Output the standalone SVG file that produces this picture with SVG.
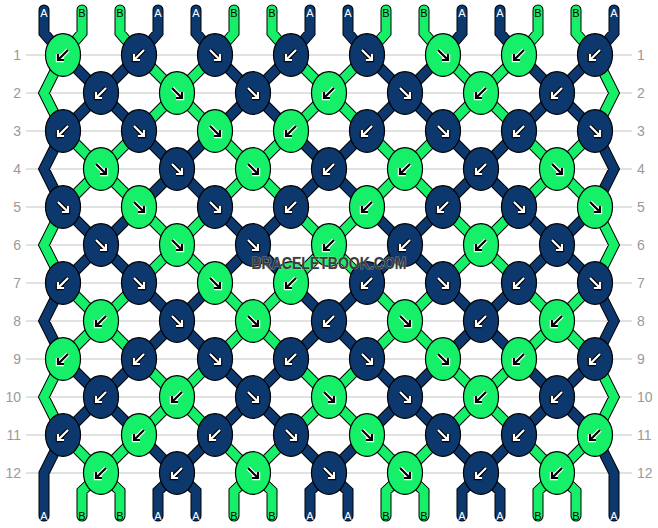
<svg xmlns="http://www.w3.org/2000/svg" xmlns:xlink="http://www.w3.org/1999/xlink" width="658" height="528" viewBox="0 0 658 528">
<style>
.bg{fill:#fff}
.grid line{stroke:#c4c4c4;stroke-width:1}
.rn{font-family:"Liberation Sans",Arial,sans-serif;font-size:14px;fill:#9a9a9a}
.ol{stroke:#000;stroke-width:11;stroke-linecap:round;stroke-linejoin:miter}
.cn{stroke:#0c386e;stroke-width:9;stroke-linecap:round;stroke-linejoin:miter}
.cg{stroke:#16f068;stroke-width:9;stroke-linecap:round;stroke-linejoin:miter}
.sl{font-family:"Liberation Sans",Arial,sans-serif;font-size:11px;text-anchor:middle}
.sa{fill:#fff}
.sb{fill:#000}
.N{fill:#0c386e;stroke:#000;color:#fff}
.G{fill:#16f068;stroke:#fff;color:#000}
.wm{font-family:"Liberation Sans",Arial,sans-serif;font-weight:bold;font-size:16px;fill:#3c3c3c;stroke:#d0d0d0;stroke-width:0.6;paint-order:stroke;text-anchor:middle}
</style>
<defs>
<ellipse id="e" rx="17.5" ry="21.3" stroke="#000" stroke-width="1.2"/>
<g id="L">
<path d="M5,-5L-4,4M-5,-1L-5,5L1,5" fill="none" stroke-width="4.4" stroke-linecap="butt" stroke-linejoin="miter"/>
<path d="M5,-5L-4,4M-5,-1L-5,5L1,5" fill="none" stroke="currentColor" stroke-width="2.2" stroke-linecap="butt" stroke-linejoin="miter"/>
</g>
<g id="R">
<path d="M-5,-5L4,4M5,-1L5,5L-1,5" fill="none" stroke-width="4.4" stroke-linecap="butt" stroke-linejoin="miter"/>
<path d="M-5,-5L4,4M5,-1L5,5L-1,5" fill="none" stroke="currentColor" stroke-width="2.2" stroke-linecap="butt" stroke-linejoin="miter"/>
</g>
<path id="nv" fill="none" d="M44,10V33L63,55M158,10V33L139,55M196,10V33L215,55M310,10V33L291,55M348,10V33L367,55M462,10V33L443,55M500,10V33L519,55M614,10V33L595,55
M63,55L139,131M139,55L63,131M215,55L291,131M291,55L215,131M367,55L443,131M443,55L367,131M519,55L595,131M595,55L519,131
M139,131L215,207M215,131L139,207M291,131L367,207M367,131L291,207M443,131L519,207M519,131L443,207
M63,207L139,283M139,207L63,283M215,207L291,283M291,207L215,283M367,207L443,283M443,207L367,283M519,207L595,283M595,207L519,283
M139,283L215,359M215,283L139,359M291,283L367,359M367,283L291,359M443,283L519,359M519,283L443,359
M63,359L139,435M139,359L63,435M215,359L291,435M291,359L215,435M367,359L443,435M443,359L367,435M519,359L595,435M595,359L519,435
M139,435L177,473L215,435M158,516V491L177,473L196,491V516
M291,435L329,473L367,435M310,516V491L329,473L348,491V516
M443,435L481,473L519,435M462,516V491L481,473L500,491V516
M63,131L44,169L63,207M595,131L614,169L595,207
M63,283L44,321L63,359M595,283L614,321L595,359
M63,435L44,473V516M595,435L614,473V516"/>
<path id="gr" fill="none" d="M82,10V33L63,55M120,10V33L139,55M234,10V33L215,55M272,10V33L291,55M386,10V33L367,55M424,10V33L443,55M538,10V33L519,55M576,10V33L595,55
M139,55L215,131M215,55L139,131M291,55L367,131M367,55L291,131M443,55L519,131M519,55L443,131
M63,131L139,207M139,131L63,207M215,131L291,207M291,131L215,207M367,131L443,207M443,131L367,207M519,131L595,207M595,131L519,207
M139,207L215,283M215,207L139,283M291,207L367,283M367,207L291,283M443,207L519,283M519,207L443,283
M63,283L139,359M139,283L63,359M215,283L291,359M291,283L215,359M367,283L443,359M443,283L367,359M519,283L595,359M595,283L519,359
M139,359L215,435M215,359L139,435M291,359L367,435M367,359L291,435M443,359L519,435M519,359L443,435
M63,435L101,473L139,435M82,516V491L101,473L120,491V516
M215,435L253,473L291,435M234,516V491L253,473L272,491V516
M367,435L405,473L443,435M386,516V491L405,473L424,491V516
M519,435L557,473L595,435M538,516V491L557,473L576,491V516
M63,55L44,93L63,131M595,55L614,93L595,131
M63,207L44,245L63,283M595,207L614,245L595,283
M63,359L44,397L63,435M595,359L614,397L595,435"/>
</defs>
<rect class="bg" x="0" y="0" width="658" height="528"/>
<g id="grid" class="grid">
<line x1="26" y1="55" x2="632" y2="55"/><line x1="26" y1="93" x2="632" y2="93"/><line x1="26" y1="131" x2="632" y2="131"/><line x1="26" y1="169" x2="632" y2="169"/><line x1="26" y1="207" x2="632" y2="207"/><line x1="26" y1="245" x2="632" y2="245"/><line x1="26" y1="283" x2="632" y2="283"/><line x1="26" y1="321" x2="632" y2="321"/><line x1="26" y1="359" x2="632" y2="359"/><line x1="26" y1="397" x2="632" y2="397"/><line x1="26" y1="435" x2="632" y2="435"/><line x1="26" y1="473" x2="632" y2="473"/>
</g>
<g id="row-numbers" class="rn">
<g text-anchor="end">
<text x="21" y="60">1</text><text x="21" y="98">2</text><text x="21" y="136">3</text><text x="21" y="174">4</text><text x="21" y="212">5</text><text x="21" y="250">6</text><text x="21" y="288">7</text><text x="21" y="326">8</text><text x="21" y="364">9</text><text x="21" y="402">10</text><text x="21" y="440">11</text><text x="21" y="478">12</text>
</g>
<g text-anchor="start">
<text x="637" y="60">1</text><text x="637" y="98">2</text><text x="637" y="136">3</text><text x="637" y="174">4</text><text x="637" y="212">5</text><text x="637" y="250">6</text><text x="637" y="288">7</text><text x="637" y="326">8</text><text x="637" y="364">9</text><text x="637" y="402">10</text><text x="637" y="440">11</text><text x="637" y="478">12</text>
</g>
</g>
<g id="strands">
<use href="#nv" class="ol"/>
<use href="#gr" class="ol"/>
<use href="#nv" class="cn"/>
<use href="#gr" class="cg"/>
</g>
<g id="string-labels" class="sl">
<text class="sa" x="44" y="17">A</text><text class="sb" x="82" y="17">B</text><text class="sb" x="120" y="17">B</text><text class="sa" x="158" y="17">A</text><text class="sa" x="196" y="17">A</text><text class="sb" x="234" y="17">B</text><text class="sb" x="272" y="17">B</text><text class="sa" x="310" y="17">A</text><text class="sa" x="348" y="17">A</text><text class="sb" x="386" y="17">B</text><text class="sb" x="424" y="17">B</text><text class="sa" x="462" y="17">A</text><text class="sa" x="500" y="17">A</text><text class="sb" x="538" y="17">B</text><text class="sb" x="576" y="17">B</text><text class="sa" x="614" y="17">A</text>
<text class="sa" x="44" y="520">A</text><text class="sb" x="82" y="520">B</text><text class="sb" x="120" y="520">B</text><text class="sa" x="158" y="520">A</text><text class="sa" x="196" y="520">A</text><text class="sb" x="234" y="520">B</text><text class="sb" x="272" y="520">B</text><text class="sa" x="310" y="520">A</text><text class="sa" x="348" y="520">A</text><text class="sb" x="386" y="520">B</text><text class="sb" x="424" y="520">B</text><text class="sa" x="462" y="520">A</text><text class="sa" x="500" y="520">A</text><text class="sb" x="538" y="520">B</text><text class="sb" x="576" y="520">B</text><text class="sa" x="614" y="520">A</text>
</g>
<g id="knots">
<g id="k1-1" class="G" transform="translate(63,55)"><use href="#e"/><use href="#L"/></g>
<g id="k1-2" class="N" transform="translate(139,55)"><use href="#e"/><use href="#L"/></g>
<g id="k1-3" class="N" transform="translate(215,55)"><use href="#e"/><use href="#R"/></g>
<g id="k1-4" class="N" transform="translate(291,55)"><use href="#e"/><use href="#L"/></g>
<g id="k1-5" class="N" transform="translate(367,55)"><use href="#e"/><use href="#R"/></g>
<g id="k1-6" class="G" transform="translate(443,55)"><use href="#e"/><use href="#R"/></g>
<g id="k1-7" class="G" transform="translate(519,55)"><use href="#e"/><use href="#L"/></g>
<g id="k1-8" class="N" transform="translate(595,55)"><use href="#e"/><use href="#L"/></g>
<g id="k2-1" class="N" transform="translate(101,93)"><use href="#e"/><use href="#L"/></g>
<g id="k2-2" class="G" transform="translate(177,93)"><use href="#e"/><use href="#R"/></g>
<g id="k2-3" class="N" transform="translate(253,93)"><use href="#e"/><use href="#R"/></g>
<g id="k2-4" class="G" transform="translate(329,93)"><use href="#e"/><use href="#L"/></g>
<g id="k2-5" class="N" transform="translate(405,93)"><use href="#e"/><use href="#R"/></g>
<g id="k2-6" class="G" transform="translate(481,93)"><use href="#e"/><use href="#L"/></g>
<g id="k2-7" class="N" transform="translate(557,93)"><use href="#e"/><use href="#L"/></g>
<g id="k3-1" class="N" transform="translate(63,131)"><use href="#e"/><use href="#L"/></g>
<g id="k3-2" class="N" transform="translate(139,131)"><use href="#e"/><use href="#R"/></g>
<g id="k3-3" class="G" transform="translate(215,131)"><use href="#e"/><use href="#R"/></g>
<g id="k3-4" class="G" transform="translate(291,131)"><use href="#e"/><use href="#L"/></g>
<g id="k3-5" class="N" transform="translate(367,131)"><use href="#e"/><use href="#L"/></g>
<g id="k3-6" class="N" transform="translate(443,131)"><use href="#e"/><use href="#R"/></g>
<g id="k3-7" class="N" transform="translate(519,131)"><use href="#e"/><use href="#L"/></g>
<g id="k3-8" class="N" transform="translate(595,131)"><use href="#e"/><use href="#R"/></g>
<g id="k4-1" class="G" transform="translate(101,169)"><use href="#e"/><use href="#R"/></g>
<g id="k4-2" class="N" transform="translate(177,169)"><use href="#e"/><use href="#R"/></g>
<g id="k4-3" class="G" transform="translate(253,169)"><use href="#e"/><use href="#R"/></g>
<g id="k4-4" class="N" transform="translate(329,169)"><use href="#e"/><use href="#L"/></g>
<g id="k4-5" class="G" transform="translate(405,169)"><use href="#e"/><use href="#L"/></g>
<g id="k4-6" class="N" transform="translate(481,169)"><use href="#e"/><use href="#L"/></g>
<g id="k4-7" class="G" transform="translate(557,169)"><use href="#e"/><use href="#R"/></g>
<g id="k5-1" class="N" transform="translate(63,207)"><use href="#e"/><use href="#R"/></g>
<g id="k5-2" class="G" transform="translate(139,207)"><use href="#e"/><use href="#R"/></g>
<g id="k5-3" class="N" transform="translate(215,207)"><use href="#e"/><use href="#R"/></g>
<g id="k5-4" class="N" transform="translate(291,207)"><use href="#e"/><use href="#L"/></g>
<g id="k5-5" class="G" transform="translate(367,207)"><use href="#e"/><use href="#L"/></g>
<g id="k5-6" class="N" transform="translate(443,207)"><use href="#e"/><use href="#L"/></g>
<g id="k5-7" class="N" transform="translate(519,207)"><use href="#e"/><use href="#R"/></g>
<g id="k5-8" class="G" transform="translate(595,207)"><use href="#e"/><use href="#R"/></g>
<g id="k6-1" class="N" transform="translate(101,245)"><use href="#e"/><use href="#R"/></g>
<g id="k6-2" class="G" transform="translate(177,245)"><use href="#e"/><use href="#R"/></g>
<g id="k6-3" class="N" transform="translate(253,245)"><use href="#e"/><use href="#R"/></g>
<g id="k6-4" class="G" transform="translate(329,245)"><use href="#e"/><use href="#L"/></g>
<g id="k6-5" class="N" transform="translate(405,245)"><use href="#e"/><use href="#L"/></g>
<g id="k6-6" class="G" transform="translate(481,245)"><use href="#e"/><use href="#L"/></g>
<g id="k6-7" class="N" transform="translate(557,245)"><use href="#e"/><use href="#R"/></g>
<g id="k7-1" class="N" transform="translate(63,283)"><use href="#e"/><use href="#L"/></g>
<g id="k7-2" class="N" transform="translate(139,283)"><use href="#e"/><use href="#R"/></g>
<g id="k7-3" class="G" transform="translate(215,283)"><use href="#e"/><use href="#R"/></g>
<g id="k7-4" class="G" transform="translate(291,283)"><use href="#e"/><use href="#L"/></g>
<g id="k7-5" class="N" transform="translate(367,283)"><use href="#e"/><use href="#L"/></g>
<g id="k7-6" class="N" transform="translate(443,283)"><use href="#e"/><use href="#R"/></g>
<g id="k7-7" class="N" transform="translate(519,283)"><use href="#e"/><use href="#L"/></g>
<g id="k7-8" class="N" transform="translate(595,283)"><use href="#e"/><use href="#R"/></g>
<g id="k8-1" class="G" transform="translate(101,321)"><use href="#e"/><use href="#L"/></g>
<g id="k8-2" class="N" transform="translate(177,321)"><use href="#e"/><use href="#R"/></g>
<g id="k8-3" class="G" transform="translate(253,321)"><use href="#e"/><use href="#R"/></g>
<g id="k8-4" class="N" transform="translate(329,321)"><use href="#e"/><use href="#L"/></g>
<g id="k8-5" class="G" transform="translate(405,321)"><use href="#e"/><use href="#R"/></g>
<g id="k8-6" class="N" transform="translate(481,321)"><use href="#e"/><use href="#L"/></g>
<g id="k8-7" class="G" transform="translate(557,321)"><use href="#e"/><use href="#L"/></g>
<g id="k9-1" class="G" transform="translate(63,359)"><use href="#e"/><use href="#L"/></g>
<g id="k9-2" class="N" transform="translate(139,359)"><use href="#e"/><use href="#L"/></g>
<g id="k9-3" class="N" transform="translate(215,359)"><use href="#e"/><use href="#R"/></g>
<g id="k9-4" class="N" transform="translate(291,359)"><use href="#e"/><use href="#L"/></g>
<g id="k9-5" class="N" transform="translate(367,359)"><use href="#e"/><use href="#R"/></g>
<g id="k9-6" class="G" transform="translate(443,359)"><use href="#e"/><use href="#R"/></g>
<g id="k9-7" class="G" transform="translate(519,359)"><use href="#e"/><use href="#L"/></g>
<g id="k9-8" class="N" transform="translate(595,359)"><use href="#e"/><use href="#L"/></g>
<g id="k10-1" class="N" transform="translate(101,397)"><use href="#e"/><use href="#L"/></g>
<g id="k10-2" class="G" transform="translate(177,397)"><use href="#e"/><use href="#L"/></g>
<g id="k10-3" class="N" transform="translate(253,397)"><use href="#e"/><use href="#R"/></g>
<g id="k10-4" class="G" transform="translate(329,397)"><use href="#e"/><use href="#R"/></g>
<g id="k10-5" class="N" transform="translate(405,397)"><use href="#e"/><use href="#R"/></g>
<g id="k10-6" class="G" transform="translate(481,397)"><use href="#e"/><use href="#L"/></g>
<g id="k10-7" class="N" transform="translate(557,397)"><use href="#e"/><use href="#L"/></g>
<g id="k11-1" class="N" transform="translate(63,435)"><use href="#e"/><use href="#L"/></g>
<g id="k11-2" class="G" transform="translate(139,435)"><use href="#e"/><use href="#L"/></g>
<g id="k11-3" class="N" transform="translate(215,435)"><use href="#e"/><use href="#L"/></g>
<g id="k11-4" class="N" transform="translate(291,435)"><use href="#e"/><use href="#R"/></g>
<g id="k11-5" class="G" transform="translate(367,435)"><use href="#e"/><use href="#R"/></g>
<g id="k11-6" class="N" transform="translate(443,435)"><use href="#e"/><use href="#R"/></g>
<g id="k11-7" class="N" transform="translate(519,435)"><use href="#e"/><use href="#L"/></g>
<g id="k11-8" class="G" transform="translate(595,435)"><use href="#e"/><use href="#L"/></g>
<g id="k12-1" class="G" transform="translate(101,473)"><use href="#e"/><use href="#L"/></g>
<g id="k12-2" class="N" transform="translate(177,473)"><use href="#e"/><use href="#L"/></g>
<g id="k12-3" class="G" transform="translate(253,473)"><use href="#e"/><use href="#R"/></g>
<g id="k12-4" class="N" transform="translate(329,473)"><use href="#e"/><use href="#R"/></g>
<g id="k12-5" class="G" transform="translate(405,473)"><use href="#e"/><use href="#R"/></g>
<g id="k12-6" class="N" transform="translate(481,473)"><use href="#e"/><use href="#L"/></g>
<g id="k12-7" class="G" transform="translate(557,473)"><use href="#e"/><use href="#L"/></g>
</g>
<text id="watermark" class="wm" x="329" y="269" textLength="155" lengthAdjust="spacingAndGlyphs">BRACELETBOOK.COM</text>
</svg>
